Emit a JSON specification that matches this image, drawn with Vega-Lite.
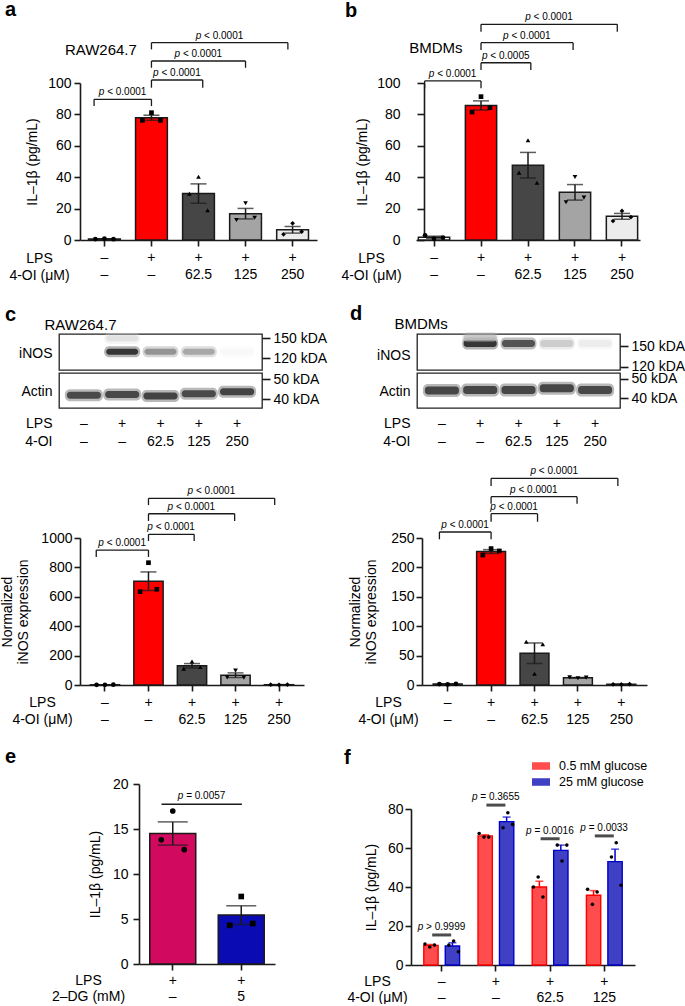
{
"$schema":"https://vega.github.io/schema/vega-lite/v6.json",
"padding":0,
"background":"white",
"columns":2,
"spacing":{"row":3,"column":155},
"bounds":"flush",
"align":"each",
"resolve":{"scale":{"fill":"independent","stroke":"independent","color":"independent","shape":"independent","xOffset":"independent","x":"independent","y":"independent"}},
"concat":[
{
 "width":203,"height":248,
 "title":{"text":"a","dx":-54,"offset":10.2},
 "layer":[
  {"data":{"values":[
    {"g":"–|–","rep":1,"value":0.6},{"g":"–|–","rep":2,"value":0.9},{"g":"–|–","rep":3,"value":0.5},
    {"g":"+|–","rep":1,"value":76.2},{"g":"+|–","rep":2,"value":81.1},{"g":"+|–","rep":3,"value":76.2},
    {"g":"+|62.5","rep":1,"value":29.5},{"g":"+|62.5","rep":2,"value":40.3},{"g":"+|62.5","rep":3,"value":18.9},
    {"g":"+|125","rep":1,"value":12.7},{"g":"+|125","rep":2,"value":23.4},{"g":"+|125","rep":3,"value":14.2},
    {"g":"+|250","rep":1,"value":3.6},{"g":"+|250","rep":2,"value":10.6},{"g":"+|250","rep":3,"value":5.3}]},
   "layer":[
    {"mark":{"type":"bar","stroke":"#1a1a1a","strokeWidth":1.5,"width":31.8},
     "encoding":{
      "x":{"field":"g","type":"nominal","scale":{"domain":["–|–","+|–","+|62.5","+|125","+|250"],"range":[21,258],"paddingInner":0.324,"paddingOuter":0.181},
           "axis":{"title":["LPS","4-OI (μM)"],"labelExpr":"split(datum.label, '|')","labelAngle":0,"labelLineHeight":17,"labelPadding":4,"offset":-91,"titleX":-20,"titleY":11,"titleAlign":"center","titleBaseline":"top","titleLineHeight":17}},
      "y":{"aggregate":"mean","field":"value","type":"quantitative","scale":{"domain":[0,100],"range":[157,0],"nice":false},
           "axis":{"title":"IL–1β (pg/mL)","values":[0,20,40,60,80,100],"offset":-21,"labelPadding":3,"titlePadding":8}},
      "fill":{"field":"g","type":"nominal","scale":{"domain":["–|–","+|–","+|62.5","+|125","+|250"],"range":["#ffffff","#ff0000","#464646","#a4a4a4","#ececec"]},"legend":null}}},
    {"transform":[{"aggregate":[{"op":"mean","field":"value","as":"mean"},{"op":"stderr","field":"value","as":"se"}],"groupby":["g"]},{"calculate":"datum.mean - datum.se","as":"lo"},{"calculate":"datum.mean + datum.se","as":"hi"}],
     "layer":[
      {"mark":{"type":"rule","strokeWidth":1.5,"color":"#1a1a1a"},"encoding":{"x":{"field":"g","type":"nominal"},"y":{"field":"lo","type":"quantitative"},"y2":{"field":"hi"}}},
      {"mark":{"type":"tick","thickness":1.5,"size":16,"color":"#1a1a1a"},"encoding":{"x":{"field":"g","type":"nominal"},"y":{"field":"hi","type":"quantitative"}}},
      {"mark":{"type":"tick","thickness":1.5,"size":16,"color":"#1a1a1a"},"encoding":{"x":{"field":"g","type":"nominal"},"y":{"field":"lo","type":"quantitative"}}}]},
    {"mark":{"type":"point","filled":true,"color":"#000000","size":22,"opacity":1},
     "encoding":{"x":{"field":"g","type":"nominal"},"xOffset":{"field":"rep","type":"nominal","scale":{"paddingInner":0,"paddingOuter":0.75}},
      "y":{"field":"value","type":"quantitative"},
      "shape":{"field":"g","type":"nominal","scale":{"domain":["–|–","+|–","+|62.5","+|125","+|250"],"range":["circle","square","triangle-up","triangle-down","diamond"]},"legend":null}}}
   ]},
  {"data":{"values":[
    {"x1":0.78,"x2":2,"value":89.6,"value2":85.3,"label":"< 0.0001"},
    {"x1":2,"x2":3.09,"value":101.9,"value2":97.0,"label":"< 0.0001"},
    {"x1":2,"x2":4.0,"value":114.0,"value2":109.7,"label":"< 0.0001"},
    {"x1":2,"x2":4.9,"value":125.7,"value2":121.4,"label":"< 0.0001"}]},
   "transform":[{"calculate":"(datum.x1 + datum.x2) / 2","as":"mid"}],
   "layer":[
    {"mark":{"type":"rule","strokeWidth":1.3,"color":"#1a1a1a"},"encoding":{"x":{"field":"x1","type":"quantitative","scale":{"domain":[0.481,5.519],"range":[21,258],"nice":false,"zero":false},"axis":null},"x2":{"field":"x2"},"y":{"field":"value","type":"quantitative"}}},
    {"mark":{"type":"rule","strokeWidth":1.3,"color":"#1a1a1a"},"encoding":{"x":{"field":"x1","type":"quantitative","scale":{"domain":[0.481,5.519],"range":[21,258],"nice":false,"zero":false},"axis":null},"y":{"field":"value","type":"quantitative"},"y2":{"field":"value2"}}},
    {"mark":{"type":"rule","strokeWidth":1.3,"color":"#1a1a1a"},"encoding":{"x":{"field":"x2","type":"quantitative","scale":{"domain":[0.481,5.519],"range":[21,258],"nice":false,"zero":false},"axis":null},"y":{"field":"value","type":"quantitative"},"y2":{"field":"value2"}}},
    {"mark":{"type":"text","text":"p","fontStyle":"italic","fontSize":10,"align":"left","baseline":"alphabetic","dx":-24,"dy":-4},"encoding":{"x":{"field":"mid","type":"quantitative","scale":{"domain":[0.481,5.519],"range":[21,258],"nice":false,"zero":false},"axis":null},"y":{"field":"value","type":"quantitative"}}},
    {"mark":{"type":"text","fontSize":10,"align":"left","baseline":"alphabetic","dx":-15.6,"dy":-4},"encoding":{"x":{"field":"mid","type":"quantitative","scale":{"domain":[0.481,5.519],"range":[21,258],"nice":false,"zero":false},"axis":null},"y":{"field":"value","type":"quantitative"},"text":{"field":"label"}}}
   ]},
  {"data":{"values":[{"x":0.925,"value":118,"label":"RAW264.7"}]},
   "mark":{"type":"text","fontSize":15,"baseline":"alphabetic","align":"center"},
   "encoding":{"x":{"field":"x","type":"quantitative","scale":{"domain":[0.481,5.519],"range":[21,258],"nice":false,"zero":false},"axis":null},"y":{"field":"value","type":"quantitative"},"text":{"field":"label"}}}
 ],
 "resolve":{"scale":{"x":"independent"}}
},
{
 "width":203,"height":248,
 "title":{"text":"b","dx":-72,"offset":-8.5},
 "layer":[
  {"data":{"values":[
    {"g":"–|–","rep":1,"value":3.0},{"g":"–|–","rep":2,"value":0.8},{"g":"–|–","rep":3,"value":1.5},
    {"g":"+|–","rep":1,"value":81.5},{"g":"+|–","rep":2,"value":91.3},{"g":"+|–","rep":3,"value":84.3},
    {"g":"+|62.5","rep":1,"value":42.9},{"g":"+|62.5","rep":2,"value":63.5},{"g":"+|62.5","rep":3,"value":36.5},
    {"g":"+|125","rep":1,"value":24.0},{"g":"+|125","rep":2,"value":40.1},{"g":"+|125","rep":3,"value":27.0},
    {"g":"+|250","rep":1,"value":12.1},{"g":"+|250","rep":2,"value":18.5},{"g":"+|250","rep":3,"value":14.6}]},
   "layer":[
    {"mark":{"type":"bar","stroke":"#1a1a1a","strokeWidth":1.5,"width":31.3},
     "encoding":{
      "x":{"field":"g","type":"nominal","scale":{"domain":["–|–","+|–","+|62.5","+|125","+|250"],"range":[-1,223],"paddingInner":0.333,"paddingOuter":0.05},
           "axis":{"title":["LPS","4-OI (μM)"],"labelExpr":"split(datum.label, '|')","labelAngle":0,"labelLineHeight":17,"labelPadding":4,"offset":-91,"titleX":-46,"titleY":11,"titleAlign":"center","titleBaseline":"top","titleLineHeight":17}},
      "y":{"aggregate":"mean","field":"value","type":"quantitative","scale":{"domain":[0,100],"range":[157,0],"nice":false},
           "axis":{"title":"IL–1β (pg/mL)","values":[0,20,40,60,80,100],"offset":-7,"tickSize":7,"labelPadding":17,"titlePadding":7}},
      "fill":{"field":"g","type":"nominal","scale":{"domain":["–|–","+|–","+|62.5","+|125","+|250"],"range":["#ffffff","#ff0000","#464646","#a4a4a4","#ececec"]},"legend":null}}},
    {"transform":[{"aggregate":[{"op":"mean","field":"value","as":"mean"},{"op":"stderr","field":"value","as":"se"}],"groupby":["g"]},{"calculate":"datum.mean - datum.se","as":"lo"},{"calculate":"datum.mean + datum.se","as":"hi"}],
     "layer":[
      {"mark":{"type":"rule","strokeWidth":1.5,"color":"#1a1a1a"},"encoding":{"x":{"field":"g","type":"nominal"},"y":{"field":"lo","type":"quantitative"},"y2":{"field":"hi"}}},
      {"mark":{"type":"tick","thickness":1.5,"size":16,"color":"#1a1a1a"},"encoding":{"x":{"field":"g","type":"nominal"},"y":{"field":"hi","type":"quantitative"}}},
      {"mark":{"type":"tick","thickness":1.5,"size":16,"color":"#1a1a1a"},"encoding":{"x":{"field":"g","type":"nominal"},"y":{"field":"lo","type":"quantitative"}}}]},
    {"mark":{"type":"point","filled":true,"color":"#000000","size":22,"opacity":1},
     "encoding":{"x":{"field":"g","type":"nominal"},"xOffset":{"field":"rep","type":"nominal","scale":{"paddingInner":0,"paddingOuter":0.75}},
      "y":{"field":"value","type":"quantitative"},
      "shape":{"field":"g","type":"nominal","scale":{"domain":["–|–","+|–","+|62.5","+|125","+|250"],"range":["circle","square","triangle-up","triangle-down","diamond"]},"legend":null}}}
   ]},
  {"data":{"values":[
    {"x1":0.8,"x2":2,"value":101.3,"value2":96.6,"label":"< 0.0001"},
    {"x1":2,"x2":3.06,"value":112.9,"value2":108.3,"label":"< 0.0005"},
    {"x1":2,"x2":3.96,"value":125.7,"value2":121.0,"label":"< 0.0001"},
    {"x1":2,"x2":4.9,"value":137.4,"value2":132.7,"label":"< 0.0001"}]},
   "transform":[{"calculate":"(datum.x1 + datum.x2) / 2","as":"mid"}],
   "layer":[
    {"mark":{"type":"rule","strokeWidth":1.3,"color":"#1a1a1a"},"encoding":{"x":{"field":"x1","type":"quantitative","scale":{"domain":[0.6165,5.3835],"range":[-1,223],"nice":false,"zero":false},"axis":null},"x2":{"field":"x2"},"y":{"field":"value","type":"quantitative"}}},
    {"mark":{"type":"rule","strokeWidth":1.3,"color":"#1a1a1a"},"encoding":{"x":{"field":"x1","type":"quantitative","scale":{"domain":[0.6165,5.3835],"range":[-1,223],"nice":false,"zero":false},"axis":null},"y":{"field":"value","type":"quantitative"},"y2":{"field":"value2"}}},
    {"mark":{"type":"rule","strokeWidth":1.3,"color":"#1a1a1a"},"encoding":{"x":{"field":"x2","type":"quantitative","scale":{"domain":[0.6165,5.3835],"range":[-1,223],"nice":false,"zero":false},"axis":null},"y":{"field":"value","type":"quantitative"},"y2":{"field":"value2"}}},
    {"mark":{"type":"text","text":"p","fontStyle":"italic","fontSize":10,"align":"left","baseline":"alphabetic","dx":-24,"dy":-4},"encoding":{"x":{"field":"mid","type":"quantitative","scale":{"domain":[0.6165,5.3835],"range":[-1,223],"nice":false,"zero":false},"axis":null},"y":{"field":"value","type":"quantitative"}}},
    {"mark":{"type":"text","fontSize":10,"align":"left","baseline":"alphabetic","dx":-15.6,"dy":-4},"encoding":{"x":{"field":"mid","type":"quantitative","scale":{"domain":[0.6165,5.3835],"range":[-1,223],"nice":false,"zero":false},"axis":null},"y":{"field":"value","type":"quantitative"},"text":{"field":"label"}}}
   ]},
  {"data":{"values":[{"x":1.04,"value":119,"label":"BMDMs"}]},
   "mark":{"type":"text","fontSize":15,"baseline":"alphabetic","align":"center"},
   "encoding":{"x":{"field":"x","type":"quantitative","scale":{"domain":[0.6165,5.3835],"range":[-1,223],"nice":false,"zero":false},"axis":null},"y":{"field":"value","type":"quantitative"},"text":{"field":"label"}}}
 ],
 "resolve":{"scale":{"x":"independent"}}
},
{
 "width":203,"height":36,
 "view":{"stroke":"#222222","strokeWidth":1.3},
 "title":{"text":"c","dx":-54,"offset":-7.6},
 "data":{"values":[
   {"lane":"+|–","kda":129.5,"intensity":1.0},
   {"lane":"+|62.5","kda":129.5,"intensity":0.5},
   {"lane":"+|125","kda":129.5,"intensity":0.4},
   {"lane":"+|250","kda":129.5,"intensity":0.03},
   {"lane":"+|–","kda":149.5,"intensity":0.13}]},
 "encoding":{
   "x":{"field":"lane","type":"nominal","scale":{"domain":["–|–","+|–","+|62.5","+|125","+|250"],"paddingInner":0,"paddingOuter":0.15},
        "axis":{"orient":"top","title":"RAW264.7","labels":false,"ticks":false,"domain":false,"titleX":-15,"titleY":-5,"titleAlign":"left","titleBaseline":"alphabetic","titleFontSize":15}},
   "y":{"field":"kda","type":"quantitative","scale":{"domain":[102,156],"nice":false,"zero":false},
        "axis":{"orient":"right","values":[150,120],"labelExpr":"datum.value + ' kDA'","tickSize":8,"domain":false,"labelPadding":3,"title":"iNOS","titleAngle":0,"titleX":-210,"titleY":19,"titleAlign":"right","titleBaseline":"middle"}},
   "color":{"field":"intensity","type":"quantitative","scale":{"domain":[0,1],"range":["#ffffff","#000000"]},"legend":null}},
 "layer":[
   {"mark":{"type":"tick","thickness":11,"size":36,"opacity":0.3,"cornerRadius":5}},
   {"mark":{"type":"tick","thickness":6,"size":32,"cornerRadius":3}}]
},
{
 "width":203,"height":36,
 "view":{"stroke":"#222222","strokeWidth":1.3},
 "title":{"text":"d","dx":-67,"offset":-7.5},
 "data":{"values":[
   {"lane":"+|–","kda":153.7,"intensity":1.0},
   {"lane":"+|62.5","kda":153.7,"intensity":0.85},
   {"lane":"+|125","kda":153.7,"intensity":0.22},
   {"lane":"+|250","kda":153.7,"intensity":0.08},
   {"lane":"+|–","kda":161.7,"intensity":0.25}]},
 "encoding":{
   "x":{"field":"lane","type":"nominal","scale":{"domain":["–|–","+|–","+|62.5","+|125","+|250"],"paddingInner":0,"paddingOuter":0.15},
        "axis":{"orient":"top","title":"BMDMs","labels":false,"ticks":false,"domain":false,"titleX":-23,"titleY":-6,"titleAlign":"left","titleBaseline":"alphabetic","titleFontSize":15}},
   "y":{"field":"kda","type":"quantitative","scale":{"domain":[114.9,167.6],"nice":false,"zero":false},
        "axis":{"orient":"right","values":[150,120],"labelExpr":"datum.value + ' kDA'","tickSize":8,"domain":false,"labelPadding":3,"title":"iNOS","titleAngle":0,"titleX":-210,"titleY":21,"titleAlign":"right","titleBaseline":"middle"}},
   "color":{"field":"intensity","type":"quantitative","scale":{"domain":[0,1],"range":["#ffffff","#000000"]},"legend":null}},
 "layer":[
   {"mark":{"type":"tick","thickness":12,"size":36,"opacity":0.3,"cornerRadius":5}},
   {"mark":{"type":"tick","thickness":7,"size":33,"cornerRadius":3}}]
},
{
 "width":203,"height":35,
 "view":{"stroke":"#222222","strokeWidth":1.3},
 "data":{"values":[
   {"lane":"–|–","kda":41.85,"intensity":0.9},
   {"lane":"+|–","kda":42.3,"intensity":0.92},
   {"lane":"+|62.5","kda":41.5,"intensity":0.95},
   {"lane":"+|125","kda":42.65,"intensity":0.9},
   {"lane":"+|250","kda":43.65,"intensity":0.95}]},
 "encoding":{
   "x":{"field":"lane","type":"nominal","scale":{"domain":["–|–","+|–","+|62.5","+|125","+|250"],"paddingInner":0,"paddingOuter":0.15},
        "axis":{"orient":"bottom","title":["LPS","4-OI"],"labelExpr":"split(datum.label, '|')","labelAngle":0,"ticks":false,"tickSize":0,"domain":false,"labelPadding":8,"labelLineHeight":18,"titleX":-7,"titleY":8,"titleAlign":"right","titleBaseline":"top","titleLineHeight":18}},
   "y":{"field":"kda","type":"quantitative","scale":{"domain":[35.5,53],"nice":false,"zero":false},
        "axis":{"orient":"right","values":[50,40],"labelExpr":"datum.value + ' kDA'","tickSize":8,"domain":false,"labelPadding":3,"title":"Actin","titleAngle":0,"titleX":-210,"titleY":18,"titleAlign":"right","titleBaseline":"middle"}},
   "color":{"field":"intensity","type":"quantitative","scale":{"domain":[0,1],"range":["#ffffff","#000000"]},"legend":null}},
 "layer":[
   {"mark":{"type":"tick","thickness":12,"size":38,"opacity":0.3,"cornerRadius":5}},
   {"mark":{"type":"tick","thickness":7,"size":34,"cornerRadius":3}}]
},
{
 "width":203,"height":35,
 "view":{"stroke":"#222222","strokeWidth":1.3},
 "data":{"values":[
   {"lane":"–|–","kda":43.9,"intensity":0.93},
   {"lane":"+|–","kda":44.2,"intensity":0.93},
   {"lane":"+|62.5","kda":44.2,"intensity":0.93},
   {"lane":"+|125","kda":45.1,"intensity":0.93},
   {"lane":"+|250","kda":44.2,"intensity":0.92}]},
 "encoding":{
   "x":{"field":"lane","type":"nominal","scale":{"domain":["–|–","+|–","+|62.5","+|125","+|250"],"paddingInner":0,"paddingOuter":0.15},
        "axis":{"orient":"bottom","title":["LPS","4-OI"],"labelExpr":"split(datum.label, '|')","labelAngle":0,"ticks":false,"tickSize":0,"domain":false,"labelPadding":8,"labelLineHeight":18,"titleX":-7,"titleY":8,"titleAlign":"right","titleBaseline":"top","titleLineHeight":18}},
   "y":{"field":"kda","type":"quantitative","scale":{"domain":[34.8,53.1],"nice":false,"zero":false},
        "axis":{"orient":"right","values":[50,40],"labelExpr":"datum.value + ' kDA'","tickSize":8,"domain":false,"labelPadding":3,"title":"Actin","titleAngle":0,"titleX":-210,"titleY":18,"titleAlign":"right","titleBaseline":"middle"}},
   "color":{"field":"intensity","type":"quantitative","scale":{"domain":[0,1],"range":["#ffffff","#000000"]},"legend":null}},
 "layer":[
   {"mark":{"type":"tick","thickness":13,"size":38,"opacity":0.3,"cornerRadius":5}},
   {"mark":{"type":"tick","thickness":8,"size":34,"cornerRadius":3}}]
},
{
 "width":203,"height":274,
 "layer":[
  {"data":{"values":[
    {"g":"–|–","rep":1,"value":1.0},{"g":"–|–","rep":2,"value":1.5},{"g":"–|–","rep":3,"value":2.0},
    {"g":"+|–","rep":1,"value":635},{"g":"+|–","rep":2,"value":832},{"g":"+|–","rep":3,"value":651},
    {"g":"+|62.5","rep":1,"value":110},{"g":"+|62.5","rep":2,"value":160},{"g":"+|62.5","rep":3,"value":122},
    {"g":"+|125","rep":1,"value":52},{"g":"+|125","rep":2,"value":98},{"g":"+|125","rep":3,"value":50},
    {"g":"+|250","rep":1,"value":2},{"g":"+|250","rep":2,"value":1},{"g":"+|250","rep":3,"value":3}]},
   "layer":[
    {"mark":{"type":"bar","stroke":"#1a1a1a","strokeWidth":1.5,"width":29.3},
     "encoding":{
      "x":{"field":"g","type":"nominal","scale":{"domain":["–|–","+|–","+|62.5","+|125","+|250"],"range":[21,245],"paddingInner":0.327,"paddingOuter":0.237},
           "axis":{"title":["LPS","4-OI (μM)"],"labelExpr":"split(datum.label, '|')","labelAngle":0,"labelLineHeight":17,"labelPadding":4,"titleX":-17,"titleY":10,"titleAlign":"center","titleBaseline":"top","titleLineHeight":17}},
      "y":{"aggregate":"mean","field":"value","type":"quantitative","scale":{"domain":[0,1000],"range":[274,127],"nice":false},
           "axis":{"title":["Normalized","iNOS expression"],"values":[0,200,400,600,800,1000],"format":"d","offset":-21,"labelPadding":2,"titlePadding":10,"titleLineHeight":16}},
      "fill":{"field":"g","type":"nominal","scale":{"domain":["–|–","+|–","+|62.5","+|125","+|250"],"range":["#ffffff","#ff0000","#464646","#a4a4a4","#ececec"]},"legend":null}}},
    {"transform":[{"aggregate":[{"op":"mean","field":"value","as":"mean"},{"op":"stderr","field":"value","as":"se"}],"groupby":["g"]},{"calculate":"datum.mean - datum.se","as":"lo"},{"calculate":"datum.mean + datum.se","as":"hi"}],
     "layer":[
      {"mark":{"type":"rule","strokeWidth":1.5,"color":"#1a1a1a"},"encoding":{"x":{"field":"g","type":"nominal"},"y":{"field":"lo","type":"quantitative"},"y2":{"field":"hi"}}},
      {"mark":{"type":"tick","thickness":1.5,"size":16,"color":"#1a1a1a"},"encoding":{"x":{"field":"g","type":"nominal"},"y":{"field":"hi","type":"quantitative"}}},
      {"mark":{"type":"tick","thickness":1.5,"size":16,"color":"#1a1a1a"},"encoding":{"x":{"field":"g","type":"nominal"},"y":{"field":"lo","type":"quantitative"}}}]},
    {"mark":{"type":"point","filled":true,"color":"#000000","size":22,"opacity":1},
     "encoding":{"x":{"field":"g","type":"nominal"},"xOffset":{"field":"rep","type":"nominal","scale":{"paddingInner":0,"paddingOuter":0.75}},
      "y":{"field":"value","type":"quantitative"},
      "shape":{"field":"g","type":"nominal","scale":{"domain":["–|–","+|–","+|62.5","+|125","+|250"],"range":["circle","square","triangle-up","triangle-down","diamond"]},"legend":null}}}
   ]},
  {"data":{"values":[
    {"x1":0.8,"x2":2,"value":918,"value2":871,"label":"< 0.0001"},
    {"x1":2,"x2":3.05,"value":1025,"value2":980,"label":"< 0.0001"},
    {"x1":2,"x2":3.98,"value":1165,"value2":1116,"label":"< 0.0001"},
    {"x1":2,"x2":4.9,"value":1270,"value2":1224,"label":"< 0.0001"}]},
   "transform":[{"calculate":"(datum.x1 + datum.x2) / 2","as":"mid"}],
   "layer":[
    {"mark":{"type":"rule","strokeWidth":1.3,"color":"#1a1a1a"},"encoding":{"x":{"field":"x1","type":"quantitative","scale":{"domain":[0.4265,5.5735],"range":[21,245],"nice":false,"zero":false},"axis":null},"x2":{"field":"x2"},"y":{"field":"value","type":"quantitative"}}},
    {"mark":{"type":"rule","strokeWidth":1.3,"color":"#1a1a1a"},"encoding":{"x":{"field":"x1","type":"quantitative","scale":{"domain":[0.4265,5.5735],"range":[21,245],"nice":false,"zero":false},"axis":null},"y":{"field":"value","type":"quantitative"},"y2":{"field":"value2"}}},
    {"mark":{"type":"rule","strokeWidth":1.3,"color":"#1a1a1a"},"encoding":{"x":{"field":"x2","type":"quantitative","scale":{"domain":[0.4265,5.5735],"range":[21,245],"nice":false,"zero":false},"axis":null},"y":{"field":"value","type":"quantitative"},"y2":{"field":"value2"}}},
    {"mark":{"type":"text","text":"p","fontStyle":"italic","fontSize":10,"align":"left","baseline":"alphabetic","dx":-24,"dy":-4},"encoding":{"x":{"field":"mid","type":"quantitative","scale":{"domain":[0.4265,5.5735],"range":[21,245],"nice":false,"zero":false},"axis":null},"y":{"field":"value","type":"quantitative"}}},
    {"mark":{"type":"text","fontSize":10,"align":"left","baseline":"alphabetic","dx":-15.6,"dy":-4},"encoding":{"x":{"field":"mid","type":"quantitative","scale":{"domain":[0.4265,5.5735],"range":[21,245],"nice":false,"zero":false},"axis":null},"y":{"field":"value","type":"quantitative"},"text":{"field":"label"}}}
   ]}
 ],
 "resolve":{"scale":{"x":"independent"}}
},
{
 "width":203,"height":274,
 "layer":[
  {"data":{"values":[
    {"g":"–|–","rep":1,"value":1.5},{"g":"–|–","rep":2,"value":1.0},{"g":"–|–","rep":3,"value":2.0},
    {"g":"+|–","rep":1,"value":221},{"g":"+|–","rep":2,"value":232},{"g":"+|–","rep":3,"value":228},
    {"g":"+|62.5","rep":1,"value":73.7},{"g":"+|62.5","rep":2,"value":19.2},{"g":"+|62.5","rep":3,"value":69.2},
    {"g":"+|125","rep":1,"value":13},{"g":"+|125","rep":2,"value":11.5},{"g":"+|125","rep":3,"value":12.5},
    {"g":"+|250","rep":1,"value":1.2},{"g":"+|250","rep":2,"value":1.0},{"g":"+|250","rep":3,"value":1.5}]},
   "layer":[
    {"mark":{"type":"bar","stroke":"#1a1a1a","strokeWidth":1.5,"width":28.9},
     "encoding":{
      "x":{"field":"g","type":"nominal","scale":{"domain":["–|–","+|–","+|62.5","+|125","+|250"],"range":[5,230],"paddingInner":0.334,"paddingOuter":0.258},
           "axis":{"title":["LPS","4-OI (μM)"],"labelExpr":"split(datum.label, '|')","labelAngle":0,"labelLineHeight":17,"labelPadding":4,"titleX":-29,"titleY":10,"titleAlign":"center","titleBaseline":"top","titleLineHeight":17}},
      "y":{"aggregate":"mean","field":"value","type":"quantitative","scale":{"domain":[0,250],"range":[274,127],"nice":false},
           "axis":{"title":["Normalized","iNOS expression"],"values":[0,50,100,150,200,250],"offset":-5,"labelPadding":2,"titlePadding":12,"titleLineHeight":16}},
      "fill":{"field":"g","type":"nominal","scale":{"domain":["–|–","+|–","+|62.5","+|125","+|250"],"range":["#ffffff","#ff0000","#464646","#a4a4a4","#ececec"]},"legend":null}}},
    {"transform":[{"aggregate":[{"op":"mean","field":"value","as":"mean"},{"op":"stderr","field":"value","as":"se"}],"groupby":["g"]},{"calculate":"datum.mean - datum.se","as":"lo"},{"calculate":"datum.mean + datum.se","as":"hi"}],
     "layer":[
      {"mark":{"type":"rule","strokeWidth":1.5,"color":"#1a1a1a"},"encoding":{"x":{"field":"g","type":"nominal"},"y":{"field":"lo","type":"quantitative"},"y2":{"field":"hi"}}},
      {"mark":{"type":"tick","thickness":1.5,"size":16,"color":"#1a1a1a"},"encoding":{"x":{"field":"g","type":"nominal"},"y":{"field":"hi","type":"quantitative"}}},
      {"mark":{"type":"tick","thickness":1.5,"size":16,"color":"#1a1a1a"},"encoding":{"x":{"field":"g","type":"nominal"},"y":{"field":"lo","type":"quantitative"}}}]},
    {"mark":{"type":"point","filled":true,"color":"#000000","size":22,"opacity":1},
     "encoding":{"x":{"field":"g","type":"nominal"},"xOffset":{"field":"rep","type":"nominal","scale":{"paddingInner":0,"paddingOuter":0.75}},
      "y":{"field":"value","type":"quantitative"},
      "shape":{"field":"g","type":"nominal","scale":{"domain":["–|–","+|–","+|62.5","+|125","+|250"],"range":["circle","square","triangle-up","triangle-down","diamond"]},"legend":null}}}
   ]},
  {"data":{"values":[
    {"x1":0.81,"x2":2,"value":260.2,"value2":247.8,"label":"< 0.0001"},
    {"x1":2,"x2":3.07,"value":291.3,"value2":277.7,"label":"< 0.0001"},
    {"x1":2,"x2":3.98,"value":320.3,"value2":308.4,"label":"< 0.0001"},
    {"x1":2,"x2":4.92,"value":351.5,"value2":338.4,"label":"< 0.0001"}]},
   "transform":[{"calculate":"(datum.x1 + datum.x2) / 2","as":"mid"}],
   "layer":[
    {"mark":{"type":"rule","strokeWidth":1.3,"color":"#1a1a1a"},"encoding":{"x":{"field":"x1","type":"quantitative","scale":{"domain":[0.409,5.591],"range":[5,230],"nice":false,"zero":false},"axis":null},"x2":{"field":"x2"},"y":{"field":"value","type":"quantitative"}}},
    {"mark":{"type":"rule","strokeWidth":1.3,"color":"#1a1a1a"},"encoding":{"x":{"field":"x1","type":"quantitative","scale":{"domain":[0.409,5.591],"range":[5,230],"nice":false,"zero":false},"axis":null},"y":{"field":"value","type":"quantitative"},"y2":{"field":"value2"}}},
    {"mark":{"type":"rule","strokeWidth":1.3,"color":"#1a1a1a"},"encoding":{"x":{"field":"x2","type":"quantitative","scale":{"domain":[0.409,5.591],"range":[5,230],"nice":false,"zero":false},"axis":null},"y":{"field":"value","type":"quantitative"},"y2":{"field":"value2"}}},
    {"mark":{"type":"text","text":"p","fontStyle":"italic","fontSize":10,"align":"left","baseline":"alphabetic","dx":-24,"dy":-4},"encoding":{"x":{"field":"mid","type":"quantitative","scale":{"domain":[0.409,5.591],"range":[5,230],"nice":false,"zero":false},"axis":null},"y":{"field":"value","type":"quantitative"}}},
    {"mark":{"type":"text","fontSize":10,"align":"left","baseline":"alphabetic","dx":-15.6,"dy":-4},"encoding":{"x":{"field":"mid","type":"quantitative","scale":{"domain":[0.409,5.591],"range":[5,230],"nice":false,"zero":false},"axis":null},"y":{"field":"value","type":"quantitative"},"text":{"field":"label"}}}
   ]}
 ],
 "resolve":{"scale":{"x":"independent"}}
},
{
 "width":203,"height":276,
 "title":{"text":"e","dx":-54,"offset":-78.5},
 "layer":[
  {"data":{"values":[
    {"g":"+|–","rep":1,"value":13.8},{"g":"+|–","rep":2,"value":17.0},{"g":"+|–","rep":3,"value":12.7},
    {"g":"+|5","rep":1,"value":4.3},{"g":"+|5","rep":2,"value":7.5},{"g":"+|5","rep":3,"value":4.5}]},
   "layer":[
    {"mark":{"type":"bar","stroke":"#1a1a1a","strokeWidth":1.5,"width":46},
     "encoding":{
      "x":{"field":"g","type":"nominal","scale":{"domain":["+|–","+|5"],"range":[80,216],"paddingInner":0.328,"paddingOuter":0.157},
           "axis":{"title":["LPS","2–DG (mM)"],"labelExpr":"split(datum.label, '|')","labelAngle":0,"labelLineHeight":16,"labelPadding":3,"titleX":29,"titleY":9,"titleAlign":"center","titleBaseline":"top","titleLineHeight":16}},
      "y":{"aggregate":"mean","field":"value","type":"quantitative","scale":{"domain":[0,20],"range":[276,96],"nice":false},
           "axis":{"title":"IL–1β (pg/mL)","values":[0,5,10,15,20],"offset":-80,"labelPadding":5,"titlePadding":10}},
      "fill":{"field":"g","type":"nominal","scale":{"domain":["+|–","+|5"],"range":["#d20a5f","#0b0bb4"]},"legend":null}}},
    {"transform":[{"aggregate":[{"op":"mean","field":"value","as":"mean"},{"op":"stderr","field":"value","as":"se"}],"groupby":["g"]},{"calculate":"datum.mean - datum.se","as":"lo"},{"calculate":"datum.mean + datum.se","as":"hi"}],
     "layer":[
      {"mark":{"type":"rule","strokeWidth":1.5,"color":"#1a1a1a"},"encoding":{"x":{"field":"g","type":"nominal"},"y":{"field":"lo","type":"quantitative"},"y2":{"field":"hi"}}},
      {"mark":{"type":"tick","thickness":1.5,"size":30,"color":"#1a1a1a"},"encoding":{"x":{"field":"g","type":"nominal"},"y":{"field":"hi","type":"quantitative"}}},
      {"mark":{"type":"tick","thickness":1.5,"size":30,"color":"#1a1a1a"},"encoding":{"x":{"field":"g","type":"nominal"},"y":{"field":"lo","type":"quantitative"}}}]},
    {"mark":{"type":"point","filled":true,"color":"#000000","size":32,"opacity":1},
     "encoding":{"x":{"field":"g","type":"nominal"},"xOffset":{"field":"rep","type":"nominal","scale":{"paddingInner":0,"paddingOuter":2}},
      "y":{"field":"value","type":"quantitative"},
      "shape":{"field":"g","type":"nominal","scale":{"domain":["+|–","+|5"],"range":["circle","square"]},"legend":null}}}
   ]},
  {"data":{"values":[{"x1":0.836,"x2":2.01,"value":17.74,"label":"= 0.0057"}]},
   "transform":[{"calculate":"(datum.x1 + datum.x2) / 2","as":"mid"}],
   "layer":[
    {"mark":{"type":"rule","strokeWidth":1.5,"color":"#1a1a1a"},"encoding":{"x":{"field":"x1","type":"quantitative","scale":{"domain":[0.507,2.493],"range":[80,216],"nice":false,"zero":false},"axis":null},"x2":{"field":"x2"},"y":{"field":"value","type":"quantitative"}}},
    {"mark":{"type":"text","text":"p","fontStyle":"italic","fontSize":10,"align":"left","baseline":"alphabetic","dx":-24,"dy":-5},"encoding":{"x":{"field":"mid","type":"quantitative","scale":{"domain":[0.507,2.493],"range":[80,216],"nice":false,"zero":false},"axis":null},"y":{"field":"value","type":"quantitative"}}},
    {"mark":{"type":"text","fontSize":10,"align":"left","baseline":"alphabetic","dx":-15.6,"dy":-5},"encoding":{"x":{"field":"mid","type":"quantitative","scale":{"domain":[0.507,2.493],"range":[80,216],"nice":false,"zero":false},"axis":null},"y":{"field":"value","type":"quantitative"},"text":{"field":"label"}}}
   ]}
 ],
 "resolve":{"scale":{"x":"independent"}}
},
{
 "width":203,"height":277,
 "title":{"text":"f","dx":-73,"offset":-79.5},
 "layer":[
  {"data":{"values":[
    {"g":"–|–","glucose":"0.5 mM glucose","rep":1,"value":10.8},{"g":"–|–","glucose":"0.5 mM glucose","rep":2,"value":9.2},{"g":"–|–","glucose":"0.5 mM glucose","rep":3,"value":10.2},
    {"g":"–|–","glucose":"25 mM glucose","rep":1,"value":10.2},{"g":"–|–","glucose":"25 mM glucose","rep":2,"value":12.3},{"g":"–|–","glucose":"25 mM glucose","rep":3,"value":6.8},
    {"g":"+|–","glucose":"0.5 mM glucose","rep":1,"value":67.4},{"g":"+|–","glucose":"0.5 mM glucose","rep":2,"value":65.6},{"g":"+|–","glucose":"0.5 mM glucose","rep":3,"value":65.6},
    {"g":"+|–","glucose":"25 mM glucose","rep":1,"value":70.4},{"g":"+|–","glucose":"25 mM glucose","rep":2,"value":78.1},{"g":"+|–","glucose":"25 mM glucose","rep":3,"value":72.1},
    {"g":"+|62.5","glucose":"0.5 mM glucose","rep":1,"value":40.0},{"g":"+|62.5","glucose":"0.5 mM glucose","rep":2,"value":45.1},{"g":"+|62.5","glucose":"0.5 mM glucose","rep":3,"value":34.9},
    {"g":"+|62.5","glucose":"25 mM glucose","rep":1,"value":61.5},{"g":"+|62.5","glucose":"25 mM glucose","rep":2,"value":53.3},{"g":"+|62.5","glucose":"25 mM glucose","rep":3,"value":61.5},
    {"g":"+|125","glucose":"0.5 mM glucose","rep":1,"value":38.8},{"g":"+|125","glucose":"0.5 mM glucose","rep":2,"value":31.1},{"g":"+|125","glucose":"0.5 mM glucose","rep":3,"value":37.4},
    {"g":"+|125","glucose":"25 mM glucose","rep":1,"value":55.4},{"g":"+|125","glucose":"25 mM glucose","rep":2,"value":62.7},{"g":"+|125","glucose":"25 mM glucose","rep":3,"value":40.9}]},
   "layer":[
    {"mark":{"type":"bar","strokeWidth":1.4},
     "encoding":{
      "x":{"field":"g","type":"nominal","scale":{"domain":["–|–","+|–","+|62.5","+|125"],"range":[-6,218],"paddingInner":0.2075,"paddingOuter":0.17},
           "axis":{"title":["LPS","4-OI (μM)"],"labelExpr":"split(datum.label, '|')","labelAngle":0,"labelLineHeight":16,"labelPadding":3,"titleX":-40,"titleY":9,"titleAlign":"center","titleBaseline":"top","titleLineHeight":16}},
      "xOffset":{"field":"glucose","type":"nominal","scale":{"domain":["0.5 mM glucose","25 mM glucose"],"paddingInner":0.333,"paddingOuter":0.1667}},
      "y":{"aggregate":"mean","field":"value","type":"quantitative","scale":{"domain":[0,80],"range":[277,121],"nice":false},
           "axis":{"title":"IL–1β (pg/mL)","values":[0,20,40,60,80],"offset":6,"labelPadding":2,"titlePadding":9}},
      "fill":{"field":"glucose","type":"nominal","scale":{"domain":["0.5 mM glucose","25 mM glucose"],"range":["#ff4d4d","#4040c4"]},
              "legend":{"title":null,"orient":"none","legendX":115,"legendY":69,"symbolType":"M-1,-0.42H1V0.42H-1Z","symbolSize":324,"symbolStrokeWidth":0,"labelFontSize":12.5,"labelOffset":9,"rowPadding":0,"labelColor":"#000000"}},
      "stroke":{"field":"glucose","type":"nominal","scale":{"domain":["0.5 mM glucose","25 mM glucose"],"range":["#ff0000","#0000cc"]},"legend":null}}},
    {"transform":[{"aggregate":[{"op":"mean","field":"value","as":"mean"},{"op":"stderr","field":"value","as":"se"}],"groupby":["g","glucose"]},{"calculate":"datum.mean + datum.se","as":"hi"}],
     "layer":[
      {"mark":{"type":"rule","strokeWidth":1.5},
       "encoding":{"x":{"field":"g","type":"nominal"},
        "xOffset":{"field":"glucose","type":"nominal","scale":{"domain":["0.5 mM glucose","25 mM glucose"],"paddingInner":0.333,"paddingOuter":0.1667}},
        "y":{"field":"mean","type":"quantitative"},"y2":{"field":"hi"},
        "color":{"field":"glucose","type":"nominal","scale":{"domain":["0.5 mM glucose","25 mM glucose"],"range":["#ff0000","#0000cc"]},"legend":null}}},
      {"mark":{"type":"tick","thickness":1.5,"size":8},
       "encoding":{"x":{"field":"g","type":"nominal"},
        "xOffset":{"field":"glucose","type":"nominal","scale":{"domain":["0.5 mM glucose","25 mM glucose"],"paddingInner":0.333,"paddingOuter":0.1667}},
        "y":{"field":"hi","type":"quantitative"},
        "color":{"field":"glucose","type":"nominal","scale":{"domain":["0.5 mM glucose","25 mM glucose"],"range":["#ff0000","#0000cc"]},"legend":null}}}
     ],
     "resolve":{"scale":{"xOffset":"independent"}}},
    {"transform":[{"calculate":"datum.glucose + '|' + datum.rep","as":"slot"}],
     "mark":{"type":"circle","color":"#000000","size":13,"opacity":1},
     "encoding":{"x":{"field":"g","type":"nominal"},
      "xOffset":{"field":"slot","type":"nominal","scale":{"domain":["0.5 mM glucose|1","0.5 mM glucose|2","0.5 mM glucose|3","gap1","gap2","25 mM glucose|1","25 mM glucose|2","25 mM glucose|3"],"paddingInner":0,"paddingOuter":1.25}},
      "y":{"field":"value","type":"quantitative"}}}
   ],
   "resolve":{"scale":{"xOffset":"independent"}}},
  {"data":{"values":[
    {"x":1,"value":15.4,"label":"> 0.9999"},
    {"x":2,"value":82.0,"label":"= 0.3655"},
    {"x":3,"value":64.8,"label":"= 0.0016"},
    {"x":4,"value":66.2,"label":"= 0.0033"}]},
   "layer":[
    {"mark":{"type":"tick","thickness":3,"size":19,"color":"#000000","orient":"horizontal"},"encoding":{"x":{"field":"x","type":"quantitative","scale":{"domain":[0.43375,4.56625],"range":[-6,218],"nice":false,"zero":false},"axis":null},"y":{"field":"value","type":"quantitative"}}},
    {"mark":{"type":"text","text":"p","fontStyle":"italic","fontSize":10,"align":"left","baseline":"alphabetic","dx":-24,"dy":-5},"encoding":{"x":{"field":"x","type":"quantitative","scale":{"domain":[0.43375,4.56625],"range":[-6,218],"nice":false,"zero":false},"axis":null},"y":{"field":"value","type":"quantitative"}}},
    {"mark":{"type":"text","fontSize":10,"align":"left","baseline":"alphabetic","dx":-15.6,"dy":-5},"encoding":{"x":{"field":"x","type":"quantitative","scale":{"domain":[0.43375,4.56625],"range":[-6,218],"nice":false,"zero":false},"axis":null},"y":{"field":"value","type":"quantitative"},"text":{"field":"label"}}}
   ]}
 ],
 "resolve":{"scale":{"x":"independent"}}
}
],
"config":{
 "font":"Liberation Sans",
 "view":{"stroke":null},
 "axis":{"grid":false,"labelColor":"#000000","titleColor":"#000000","domainColor":"#1a1a1a","tickColor":"#1a1a1a","labelFontSize":14,"titleFontSize":14,"titleFontWeight":"normal","domainWidth":1.6,"tickWidth":1.6,"tickSize":6},
 "title":{"fontSize":20,"fontWeight":"bold","color":"#000000","anchor":"start","frame":"group","baseline":"alphabetic"},
 "text":{"color":"#000000"}
}
}
